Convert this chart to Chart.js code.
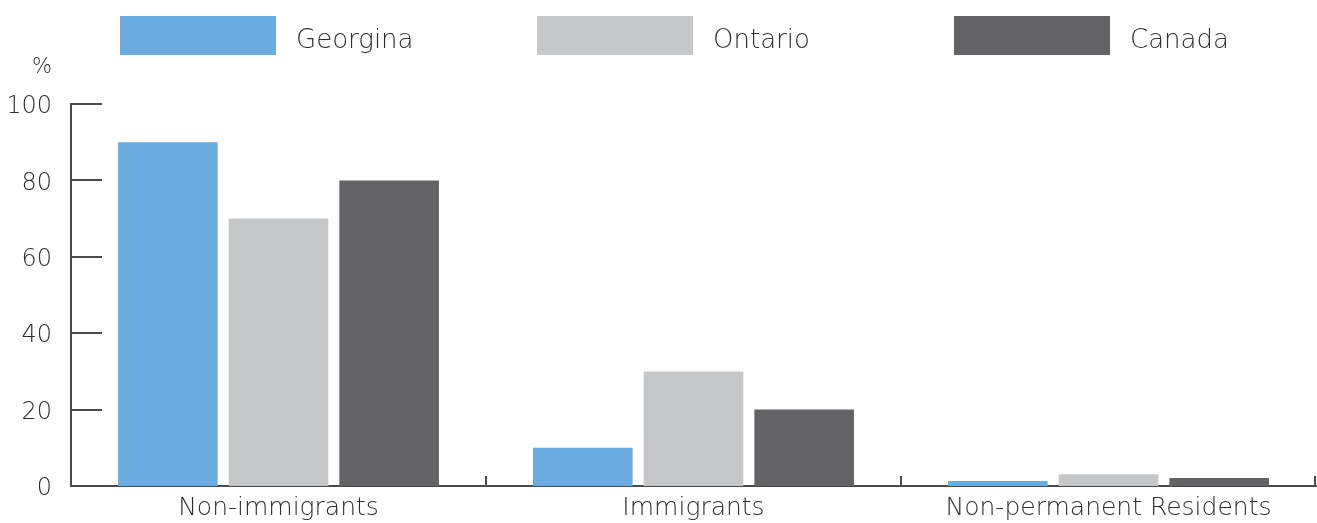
<!DOCTYPE html>
<html>
<head>
<meta charset="utf-8">
<script src="https://cdn.jsdelivr.net/npm/chart.js@4/dist/chart.umd.min.js"></script>
<style>
    html, body { margin: 0; padding: 0; background: #fff; }
    #wrap { position: relative; width: 1317px; height: 523px; }
    #legend { position: absolute; top: 16px; left: 0; width: 1317px; height: 40px; }
    .legend-item { position: absolute; top: 0; height: 39px; display: flex; align-items: center; }
    .legend-box { width: 156px; height: 39px; margin-right: 20px; }
    .legend-text { font-family: "DejaVu Sans", sans-serif; font-weight: 200; font-size: 26px; color: #2e2e2e; padding-top: 6px; }
</style>
</head>
<body>
<div id="wrap">
    <canvas id="chart" width="1317" height="523"></canvas>
    <div id="legend"></div>
</div>
<script>
// Population by immigrant status (%)
const categories = ['Non-immigrants', 'Immigrants', 'Non-permanent Residents'];
const seriesNames = ['Georgina', 'Ontario', 'Canada'];
const georgina = [90, 10, 1.3];
const ontario = [70, 30, 3.1];
const canada = [80, 20, 2.1];

const colors = ['#6aace0', '#c6c7c9', '#636365'];
const axisColor = '#4a4a4a';
const textColor = '#2e2e2e';
const fontFamily = '"DejaVu Sans", sans-serif';

// Inward tick marks, category dividers and the unit label
const axisMarks = {
    id: 'axisMarks',
    afterDraw(chart) {
        const { ctx, chartArea, scales } = chart;
        const x = scales.x;
        const y = scales.y;
        ctx.save();
        ctx.strokeStyle = axisColor;
        ctx.lineWidth = 2;

        y.ticks.forEach((t, i) => {
            const py = Math.round(y.getPixelForTick(i));
            ctx.beginPath();
            ctx.moveTo(chartArea.left, py);
            ctx.lineTo(chartArea.left + 31, py);
            ctx.stroke();
        });

        for (let i = 0; i < categories.length; i++) {
            const px = i < categories.length - 1
                ? (x.getPixelForValue(i) + x.getPixelForValue(i + 1)) / 2
                : chartArea.right - 1;
            ctx.beginPath();
            ctx.moveTo(Math.round(px), chartArea.bottom);
            ctx.lineTo(Math.round(px), chartArea.bottom - 10);
            ctx.stroke();
        }

        ctx.fillStyle = textColor;
        ctx.font = '200 21px ' + fontFamily;
        ctx.textAlign = 'center';
        ctx.textBaseline = 'middle';
        ctx.fillText('%', 42, 68);
        ctx.restore();
    }
};

const chart = new Chart(document.getElementById('chart'), {
    type: 'bar',
    data: {
        labels: categories,
        datasets: [georgina, ontario, canada].map((values, i) => ({
            label: seriesNames[i],
            data: values,
            backgroundColor: colors[i],
            borderWidth: 0,
            categoryPercentage: 0.8,
            barPercentage: 0.9
        }))
    },
    options: {
        responsive: false,
        animation: false,
        layout: { padding: { top: 104, right: 1, left: 0, bottom: 0 } },
        plugins: {
            legend: { display: false },
            tooltip: { enabled: false }
        },
        scales: {
            x: {
                grid: { display: false, drawTicks: false },
                border: { color: axisColor, width: 2 },
                ticks: {
                    color: textColor,
                    padding: 7,
                    font: { family: fontFamily, size: 25, weight: 200 }
                },
                afterFit(scale) { scale.height = 37; }
            },
            y: {
                min: 0,
                max: 100,
                ticks: {
                    stepSize: 20,
                    color: textColor,
                    padding: 19,
                    labelOffset: 3,
                    font: { family: fontFamily, size: 24, weight: 200 }
                },
                grid: { display: false, drawTicks: false },
                border: { color: axisColor, width: 2 },
                afterFit(scale) { scale.width = 71; }
            }
        }
    },
    plugins: [axisMarks]
});

// Legend built from the chart's own datasets
const legend = document.getElementById('legend');
chart.data.datasets.forEach((ds, i) => {
    const item = document.createElement('div');
    item.className = 'legend-item';
    item.style.left = (120 + i * 417) + 'px';
    item.innerHTML = `<div class="legend-box" style="background:${ds.backgroundColor}"></div>` +
        `<span class="legend-text">${ds.label}</span>`;
    legend.appendChild(item);
});
</script>
</body>
</html>
